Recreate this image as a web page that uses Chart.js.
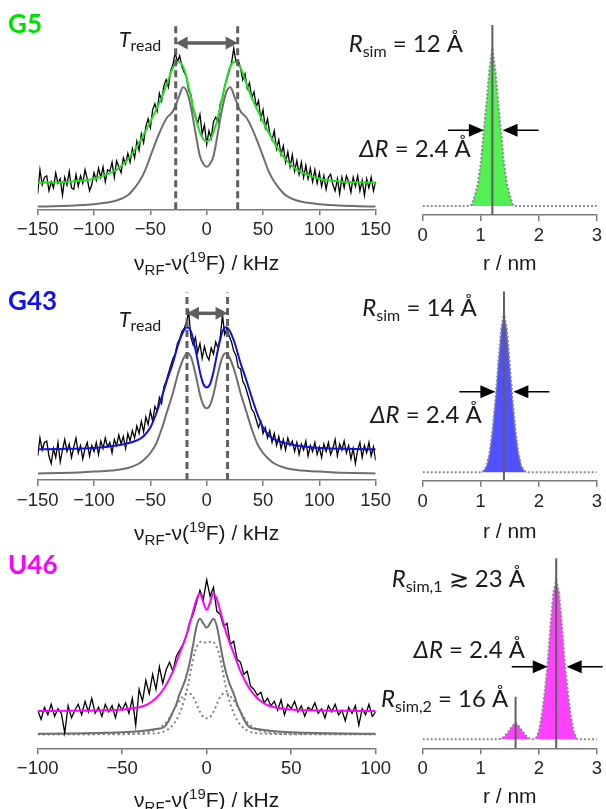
<!DOCTYPE html>
<html>
<head>
<meta charset="utf-8">
<script src="https://cdn.jsdelivr.net/npm/chart.js@4.4.1/dist/chart.umd.min.js"></script>
<style>
  body { margin: 0; background: #fff; width: 606px; height: 809px; overflow: hidden; position: relative; }
  canvas { position: absolute; }
</style>
</head>
<body>
<canvas id="g5Spec" width="400" height="290" style="left:0;top:0"></canvas>
<canvas id="g5Dist" width="276" height="290" style="left:330px;top:0"></canvas>
<canvas id="g43Spec" width="400" height="290" style="left:0;top:270px"></canvas>
<canvas id="g43Dist" width="276" height="290" style="left:330px;top:270px"></canvas>
<canvas id="u46Spec" width="400" height="290" style="left:0;top:540px"></canvas>
<canvas id="u46Dist" width="276" height="290" style="left:330px;top:540px"></canvas>
<script>
// ---------- spectra: frequency grids (kHz) ----------
const wideFreq = [
  -150,-148,-146,-144,-142,-140,-138,-136,-134,-132,-130,-128,-126,-124,-122,-120,-118,-116,-114,-112,-110,-108,-106,-104,-102,-100,
  -98,-96,-94,-92,-90,-88,-86,-84,-82,-80,-78,-76,-74,-72,-70,-68,-66,-64,-62,-60,
  -58,-56,-54,-52,-50,-48,-46,-44,-42,-40,-38,-36,-34,-32,-30,
  -28,-26,-24,-22,-20,-18,-16,-14,-12,-10,
  -8,-6,-4,-2,0,2,4,6,8,
  10,12,14,16,18,20,22,24,26,28,
  30,32,34,36,38,40,42,44,46,48,50,52,54,56,58,
  60,62,64,66,68,70,72,74,76,78,80,82,84,86,88,90,92,94,96,98,
  100,102,104,106,108,110,112,114,116,118,120,122,124,126,128,130,132,134,136,138,140,142,144,146,148,150
];
const narrowFreq = [
  -100,-98,-96,-94,-92,-90,-88,-86,-84,-82,-80,-78,-76,-74,-72,-70,-68,-66,-64,-62,
  -60,-58,-56,-54,-52,-50,-48,-46,-44,-42,
  -40,-38,-36,-34,-32,-30,-28,-26,-24,-22,
  -20,-18,-16,-14,-12,-10,-8,-6,-4,-2,
  0,2,4,6,8,10,12,14,16,18,
  20,22,24,26,28,30,32,34,36,38,
  40,42,44,46,48,50,52,54,56,58,60,62,64,66,68,70,72,74,76,78,80,82,84,86,88,90,92,94,96,98,100
];

// ---------- G5 ----------
const g5Noisy = [
  0.09,0.25,0.15,0.2,0.21,0.11,0.17,0.13,0.23,0.16,0.19,0.08,0.2,0.15,0.24,0.13,0.12,0.22,0.14,0.21,0.16,0.25,0.19,0.11,0.15,0.23,
  0.18,0.26,0.2,0.27,0.17,0.25,0.24,0.3,0.2,0.31,0.27,0.23,0.33,0.29,0.36,0.3,0.39,0.33,0.44,0.38,
  0.49,0.43,0.54,0.59,0.53,0.65,0.69,0.64,0.76,0.71,0.81,0.85,0.8,0.91,0.95,
  1.03,0.97,1.01,0.94,0.9,0.87,0.78,0.75,0.65,0.61,
  0.56,0.62,0.49,0.55,0.42,0.51,0.46,0.57,0.6,
  0.57,0.69,0.73,0.81,0.86,0.91,0.96,1.06,0.97,0.98,
  0.93,0.85,0.89,0.79,0.83,0.73,0.77,0.67,0.71,0.59,0.65,0.53,0.59,0.49,0.45,
  0.51,0.39,0.45,0.35,0.41,0.3,0.37,0.27,0.35,0.24,0.31,0.22,0.3,0.2,0.28,0.19,0.26,0.17,0.25,0.16,
  0.23,0.14,0.21,0.12,0.2,0.22,0.15,0.11,0.19,0.09,0.2,0.13,0.21,0.17,0.1,0.2,0.14,0.21,0.11,0.18,0.08,0.19,0.13,0.2,0.11,0.17
];
const g5FitFreq = [-150,-130,-110,-100,-90,-80,-70,-60,-50,-45,-40,-35,-30,-25,-20,-15,-10,-5,0,5,10,15,20,25,30,35,40,45,50,60,70,80,90,100,110,130,150];
const g5Fit = [0.164,0.167,0.178,0.19,0.215,0.25,0.32,0.43,0.57,0.65,0.73,0.83,0.93,0.97,0.92,0.77,0.6,0.48,0.44,0.48,0.6,0.77,0.92,0.97,0.93,0.83,0.73,0.65,0.57,0.43,0.32,0.25,0.215,0.19,0.178,0.167,0.164];
const g5SimFreq = [-150,-130,-110,-100,-90,-80,-70,-65,-60,-55,-50,-45,-40,-35,-30,-25,-21,-17,-13,-10,-6,-3,0,3,6,10,13,17,21,25,30,35,40,45,50,55,60,65,70,80,90,100,110,130,150];
const g5Sim = [0.005,0.008,0.015,0.02,0.03,0.045,0.08,0.12,0.17,0.24,0.34,0.44,0.53,0.6,0.64,0.73,0.8,0.76,0.63,0.5,0.34,0.29,0.27,0.29,0.34,0.5,0.63,0.76,0.8,0.73,0.64,0.6,0.53,0.44,0.34,0.24,0.17,0.12,0.08,0.045,0.03,0.02,0.015,0.008,0.005];
const g5Tread = [-27.5, 27.5];

// ---------- G43 ----------
const g43Noisy = [
  0.12,0.24,0.16,0.21,0.22,0.12,0.07,0.17,0.11,0.21,0.08,0.16,0.23,0.15,0.2,0.11,0.18,0.24,0.14,0.19,0.1,0.17,0.21,0.12,0.19,0.15,
  0.21,0.13,0.22,0.17,0.24,0.18,0.21,0.14,0.23,0.19,0.26,0.2,0.25,0.17,0.27,0.22,0.29,0.24,0.32,0.27,
  0.35,0.28,0.38,0.33,0.42,0.35,0.45,0.42,0.51,0.47,0.58,0.62,0.67,0.72,0.77,
  0.8,0.87,0.9,0.95,0.97,1.01,1.08,0.91,0.86,0.91,
  0.81,0.87,0.77,0.85,0.79,0.76,0.84,0.8,0.88,
  0.84,0.91,1.06,0.93,0.97,0.92,0.88,0.82,0.79,0.71,
  0.7,0.62,0.59,0.54,0.49,0.43,0.41,0.36,0.31,0.35,0.27,0.31,0.24,0.29,0.21,
  0.27,0.19,0.25,0.17,0.23,0.16,0.24,0.19,0.22,0.15,0.21,0.13,0.2,0.16,0.22,0.12,0.19,0.15,0.21,0.13,
  0.18,0.11,0.2,0.15,0.21,0.13,0.17,0.23,0.12,0.2,0.16,0.22,0.14,0.19,0.1,0.17,0.07,0.16,0.21,0.11,0.19,0.14,0.21,0.12,0.18,0.09
];
const g43CurveFreq = [-150,-130,-110,-100,-90,-80,-70,-60,-55,-50,-45,-40,-35,-30,-25,-20,-17,-14,-10,-6,-3,0,3,6,10,14,17,20,25,30,35,40,45,50,55,60,70,80,90,100,110,130,150];
const g43Fit = [0.165,0.167,0.17,0.174,0.18,0.19,0.205,0.23,0.26,0.31,0.4,0.51,0.63,0.74,0.87,0.96,0.978,0.95,0.83,0.68,0.6,0.578,0.6,0.68,0.83,0.95,0.978,0.96,0.87,0.74,0.63,0.51,0.4,0.31,0.26,0.23,0.205,0.19,0.18,0.174,0.17,0.167,0.165];
const g43Sim = [0.004,0.007,0.012,0.016,0.02,0.026,0.04,0.07,0.1,0.14,0.2,0.3,0.42,0.54,0.68,0.78,0.805,0.78,0.67,0.53,0.46,0.438,0.46,0.53,0.67,0.78,0.805,0.78,0.68,0.54,0.42,0.3,0.2,0.14,0.1,0.07,0.04,0.026,0.02,0.016,0.012,0.007,0.004];
const g43Tread = [-17.5, 18.5];

// ---------- U46 ----------
const u46Noisy = [
  0.16,0.1,0.18,0.13,0.2,0.12,0.17,0.14,0.01,0.19,0.11,0.16,0.2,0.13,0.22,0.15,0.24,0.14,0.18,0.12,
  0.2,0.15,0.19,0.11,0.2,0.16,0.21,0.14,0.24,0.06,
  0.3,0.22,0.36,0.27,0.4,0.3,0.45,0.34,0.43,0.48,
  0.42,0.52,0.56,0.6,0.66,0.75,0.8,0.88,0.96,0.9,
  1.03,0.92,0.98,0.82,0.8,0.72,0.74,0.6,0.62,0.5,
  0.48,0.4,0.42,0.32,0.3,0.26,0.28,0.21,0.24,0.19,
  0.22,0.16,0.23,0.13,0.2,0.17,0.22,0.15,0.19,0.12,0.18,0.16,0.21,0.14,0.17,0.11,0.19,0.15,0.2,0.13,0.16,0.09,0.18,0.14,0.19,0.06,0.17,0.13,0.2,0.12,0.15
];
const u46FitFreq = [-100,-80,-60,-50,-40,-35,-30,-25,-20,-16,-12,-9,-6,-4,-2,0,2,4,6,9,12,16,20,25,30,35,40,50,60,80,100];
const u46Fit = [0.155,0.157,0.16,0.165,0.18,0.2,0.24,0.31,0.42,0.54,0.66,0.78,0.9,0.94,0.88,0.83,0.88,0.94,0.9,0.78,0.66,0.54,0.42,0.31,0.24,0.2,0.18,0.165,0.16,0.157,0.155];
const u46SimFreq = [-100,-80,-60,-50,-40,-30,-25,-22,-20,-18,-16,-14.5,-12.5,-10,-8,-6,-4,-2,0,2,4,6,8,10,12.5,14.5,16,18,20,22,25,30,40,50,60,80,100];
const u46Sim = [0.003,0.005,0.01,0.013,0.02,0.035,0.05,0.1,0.15,0.2,0.27,0.31,0.37,0.48,0.6,0.72,0.77,0.74,0.71,0.74,0.77,0.72,0.6,0.48,0.37,0.31,0.27,0.2,0.15,0.1,0.05,0.035,0.02,0.013,0.01,0.005,0.003];
const u46CoreFreq = [-100,-50,-35,-28,-24,-21,-18,-15,-13,-11,-9,-7,-5,-3,0,3,5,7,9,11,13,15,18,21,24,28,35,50,100];
const u46Core = [0,0.001,0.004,0.01,0.025,0.05,0.095,0.17,0.24,0.33,0.45,0.55,0.6,0.62,0.61,0.62,0.6,0.55,0.45,0.33,0.24,0.17,0.095,0.05,0.025,0.01,0.004,0.001,0];
const u46SideFreq = [-100,-50,-40,-35,-30,-27,-24,-21,-18,-15,-12,-10,-8,-6,-4,-2,0,2,4,6,8,10,12,15,18,21,24,27,30,35,40,50,100];
const u46Side = [0,0.003,0.008,0.015,0.03,0.05,0.08,0.13,0.19,0.24,0.27,0.27,0.25,0.2,0.15,0.115,0.107,0.115,0.15,0.2,0.25,0.27,0.27,0.24,0.19,0.13,0.08,0.05,0.03,0.015,0.008,0.003,0];

// ---------- distance distributions (r in nm) ----------
const g5Grid = [0,0.5,0.8,0.85,0.9,0.95,1.0,1.05,1.1,1.15,1.2,1.25,1.3,1.35,1.4,1.45,1.5,1.55,1.6,2.0,2.5,3.0];
const g5Dist = [0,0,0,0.01,0.07,0.14,0.27,0.47,0.66,0.87,1.0,0.87,0.66,0.47,0.27,0.14,0.07,0.01,0,0,0,0];
const g5Rsim = [1.2];
const g5Width = [1.054, 1.376];

const g43Grid = [0,0.5,1.0,1.05,1.1,1.15,1.2,1.25,1.3,1.35,1.4,1.45,1.5,1.55,1.6,1.65,1.7,1.75,1.8,2.0,2.5,3.0];
const g43Dist = [0,0,0,0.01,0.04,0.12,0.26,0.45,0.68,0.9,1.0,0.9,0.68,0.45,0.26,0.12,0.04,0.01,0,0,0,0];
const g43Rsim = [1.4];
const g43Width = [1.252, 1.562];

const u46Grid = [0,0.5,1.0,1.3,1.35,1.4,1.45,1.5,1.55,1.6,1.65,1.7,1.75,1.8,1.85,1.9,1.95,2.0,2.05,2.1,2.15,2.2,2.25,2.3,2.35,2.4,2.45,2.5,2.55,2.6,2.65,2.7,3.0];
const u46Dist = [0,0,0,0,0.005,0.015,0.035,0.06,0.085,0.104,0.085,0.06,0.035,0.015,0.003,0,0.005,0.05,0.15,0.29,0.47,0.71,0.92,1,0.92,0.71,0.47,0.29,0.15,0.05,0.005,0,0];
const u46Rsim = [2.3, 1.6];
const u46Width = [2.154, 2.48];

// ---------- styles ----------
const axisGray = '#7a7a7a';
const simGray = '#6e6e6e';
const textCol = '#1a1a1a';
const annFam = 'Lato, "Open Sans", sans-serif';
const axFam = '"Liberation Sans", Arial, sans-serif';

const pts = (xs, ys) => xs.map((x, i) => ({ x, y: ys[i] }));
const vline = (x, y0, y1) => [{ x, y: y0 }, { x, y: y1 }];

function drawRich(ctx, parts, x, y, align) {
  let w = 0;
  parts.forEach(p => { ctx.font = p.font; w += ctx.measureText(p.text).width; });
  let cx = align === 'right' ? x - w : align === 'center' ? x - w / 2 : x;
  ctx.textBaseline = 'alphabetic';
  ctx.textAlign = 'left';
  parts.forEach(p => {
    ctx.font = p.font;
    ctx.fillStyle = p.color || textCol;
    ctx.fillText(p.text, cx, y + (p.dy || 0));
    cx += ctx.measureText(p.text).width;
  });
}

function head(ctx, tx, ty, dir, len, half) {
  ctx.beginPath();
  ctx.moveTo(tx, ty);
  ctx.lineTo(tx - dir * len, ty - half);
  ctx.lineTo(tx - dir * len, ty + half);
  ctx.closePath();
  ctx.fill();
}

function overlay(cfg) {
  return {
    id: 'overlay',
    afterDraw(chart) {
      const ctx = chart.ctx, sx = chart.scales.x, sy = chart.scales.y, area = chart.chartArea;
      ctx.save();
      (cfg.arrows || []).forEach(a => {
        const y = sy.getPixelForValue(a.level);
        ctx.strokeStyle = a.color; ctx.fillStyle = a.color; ctx.lineWidth = a.width;
        if (a.kind === 'double') {
          const x1 = sx.getPixelForValue(a.from), x2 = sx.getPixelForValue(a.to);
          ctx.beginPath(); ctx.moveTo(x1 + a.len - 2, y); ctx.lineTo(x2 - a.len + 2, y); ctx.stroke();
          head(ctx, x1, y, -1, a.len, a.half);
          head(ctx, x2, y, 1, a.len, a.half);
        } else {
          const x1 = sx.getPixelForValue(a.tips[0]), x2 = sx.getPixelForValue(a.tips[1]);
          ctx.beginPath();
          ctx.moveTo(x1 - a.tail, y); ctx.lineTo(x1 - a.len + 1, y);
          ctx.moveTo(x2 + a.tail, y); ctx.lineTo(x2 + a.len - 1, y);
          ctx.stroke();
          head(ctx, x1, y, 1, a.len, a.half);
          head(ctx, x2, y, -1, a.len, a.half);
        }
      });
      (cfg.labels || []).forEach(l => drawRich(ctx, l.parts, l.x, l.y, l.align));
      drawRich(ctx, cfg.title, (area.left + area.right) / 2, cfg.axis + cfg.titleGap, 'center');
      ctx.restore();
    }
  };
}

function panel(id, cfg) {
  const canvas = document.getElementById(id);
  const H = canvas.height;
  return new Chart(canvas, {
    type: 'line',
    data: { datasets: cfg.datasets },
    options: {
      responsive: false,
      animation: false,
      devicePixelRatio: 1,
      layout: { padding: { left: cfg.left, right: cfg.right, top: cfg.top, bottom: 0 } },
      plugins: { legend: { display: false }, tooltip: { enabled: false } },
      elements: { point: { radius: 0 } },
      scales: {
        x: {
          type: 'linear', min: cfg.xMin, max: cfg.xMax,
          afterFit: s => { s.height = H - cfg.axis; },
          border: { display: true, color: axisGray, width: 1.5 },
          grid: { display: true, drawOnChartArea: false, drawTicks: true, tickLength: 6, color: axisGray, lineWidth: 1.5 },
          ticks: {
            stepSize: cfg.step, autoSkip: false, maxRotation: 0, padding: 4, color: '#262626',
            font: { family: axFam, size: 18.5 },
            callback: v => v < 0 ? '\u2212' + Math.abs(v) : String(v)
          }
        },
        y: { display: false, min: cfg.yMin, max: cfg.yMax }
      }
    },
    plugins: [overlay(cfg)]
  });
}

const lineDs = (data, color, width, extra) => Object.assign({
  data, borderColor: color, borderWidth: width, pointRadius: 0, fill: false, tension: 0
}, extra || {});
const smooth = { cubicInterpolationMode: 'monotone' };
const dashed = { borderDash: [7, 4] };

const kHzTitle = [
  { text: '\u03bd', font: `21px ${axFam}` },
  { text: 'RF', font: `15px ${axFam}`, dy: 5 },
  { text: '-\u03bd(', font: `21px ${axFam}` },
  { text: '19', font: `15px ${axFam}`, dy: -8 },
  { text: 'F) / kHz', font: `21px ${axFam}` }
];
const nmTitle = [{ text: 'r / nm', font: `21px ${axFam}` }];

const big = `24px ${annFam}`, bigIt = `italic 24px ${annFam}`, sub = `16px ${annFam}`;
const tread = (x, y) => ({ x, y, parts: [{ text: 'T', font: `italic 21px ${annFam}` }, { text: 'read', font: sub, dy: 4 }] });
const tag = (text, color, y) => ({ x: 8, y, parts: [{ text, font: `bold 26px ${annFam}`, color }] });
const dRlabel = (x, y) => ({ x, y, align: 'right', parts: [{ text: '\u0394R', font: bigIt }, { text: ' = 2.4 \u00c5', font: big }] });
const rsim = (x, y, subText, rest) => ({ x, y, align: 'right', parts: [{ text: 'R', font: bigIt }, { text: subText, font: sub, dy: 5 }, { text: rest, font: big }] });

// ---------- left: spectra ----------
panel('g5Spec', {
  left: 37.7, right: 24.3, top: 9.3, axis: 209.3, xMin: -150, xMax: 150, step: 50,
  yMin: -0.0133, yMax: 1.32, title: kHzTitle, titleGap: 61,
  datasets: [
    lineDs(vline(g5Tread[0], -0.0133, 1.209), '#5f5f5f', 3, dashed),
    lineDs(vline(g5Tread[1], -0.0133, 1.209), '#5f5f5f', 3, dashed),
    lineDs(pts(g5FitFreq, g5Fit), '#1ee01e', 2, smooth),
    lineDs(pts(wideFreq, g5Noisy), '#000', 1.3),
    lineDs(pts(g5SimFreq, g5Sim), simGray, 2, smooth)
  ],
  arrows: [{ kind: 'double', from: g5Tread[0], to: g5Tread[1], level: 1.095, color: '#5f5f5f', width: 3.5, len: 12, half: 6.5 }],
  labels: [tag('G5', '#00e000', 33), tread(119, 46.7)]
});

panel('g43Spec', {
  left: 37.7, right: 24.3, top: 10, axis: 210, xMin: -150, xMax: 150, step: 50,
  yMin: -0.04, yMax: 1.293, title: kHzTitle, titleGap: 60,
  datasets: [
    lineDs(vline(g43Tread[0], -0.04, 1.209), '#5f5f5f', 3, dashed),
    lineDs(vline(g43Tread[1], -0.04, 1.209), '#5f5f5f', 3, dashed),
    lineDs(pts(g43CurveFreq, g43Fit), '#1010e6', 2, smooth),
    lineDs(pts(wideFreq, g43Noisy), '#000', 1.3),
    lineDs(pts(g43CurveFreq, g43Sim), simGray, 2, smooth)
  ],
  arrows: [{ kind: 'double', from: g43Tread[0], to: g43Tread[1], level: 1.071, color: '#5f5f5f', width: 3.5, len: 12, half: 6.5 }],
  labels: [tag('G43', '#1010f0', 40), tread(119, 56.7)]
});

panel('u46Spec', {
  left: 37.7, right: 24.3, top: 8.3, axis: 208.3, xMin: -100, xMax: 100, step: 50,
  yMin: -0.0933, yMax: 1.24, title: kHzTitle, titleGap: 59,
  datasets: [
    lineDs(pts(u46FitFreq, u46Fit), '#ff00ff', 2, smooth),
    lineDs(pts(narrowFreq, u46Noisy), '#000', 1.3),
    lineDs(pts(u46SimFreq, u46Sim), simGray, 2, smooth),
    lineDs(pts(u46CoreFreq, u46Core), '#808080', 2, Object.assign({ borderDash: [2, 3] }, smooth)),
    lineDs(pts(u46SideFreq, u46Side), '#808080', 2, Object.assign({ borderDash: [2, 3] }, smooth))
  ],
  labels: [tag('U46', '#ff00ff', 34)]
});

// ---------- right: distance distributions ----------
const distDs = (grid, vals, fillCol) => lineDs(pts(grid, vals), '#8a8a8a', 2, {
  borderDash: [2, 2], fill: 'origin', backgroundColor: fillCol
});
const inward = (tips, level) => ({ kind: 'inward', tips, level, color: '#000', width: 1.5, len: 15, half: 6.5, tail: 36 });

panel('g5Dist', {
  left: 92.7, right: 6, top: 10, axis: 215, xMin: 0, xMax: 3, step: 1,
  yMin: -0.057, yMax: 1.243, title: nmTitle, titleGap: 55,
  datasets: [
    lineDs(vline(g5Rsim[0], -0.057, 1.148), '#5f5f5f', 2),
    distDs(g5Grid, g5Dist, '#52f052')
  ],
  arrows: [inward(g5Width, 0.48)],
  labels: [rsim(133, 51.7, 'sim', ' = 12 \u00c5'), dRlabel(140.7, 157.3)]
});

panel('g43Dist', {
  left: 92.7, right: 6, top: 10, axis: 210.7, xMin: 0, xMax: 3, step: 1,
  yMin: -0.053, yMax: 1.209, title: nmTitle, titleGap: 57,
  datasets: [
    lineDs(vline(g43Rsim[0], -0.053, 1.136), '#5f5f5f', 2),
    distDs(g43Grid, g43Dist, '#5050ff')
  ],
  arrows: [inward(g43Width, 0.507)],
  labels: [rsim(146.7, 46, 'sim', ' = 14 \u00c5'), dRlabel(151.7, 153.3)]
});

panel('u46Dist', {
  left: 92.7, right: 6, top: 8.3, axis: 208.3, xMin: 0, xMax: 3, step: 1,
  yMin: -0.0565, yMax: 1.199, title: nmTitle, titleGap: 55,
  datasets: [
    lineDs(vline(u46Rsim[0], -0.0565, 1.136), '#5f5f5f', 2),
    lineDs(vline(u46Rsim[1], -0.0565, 0.267), '#5f5f5f', 2),
    distDs(u46Grid, u46Dist, '#ff40ff')
  ],
  arrows: [inward(u46Width, 0.456)],
  labels: [
    rsim(195, 46.7, 'sim,1', ' \u2273 23 \u00c5'),
    dRlabel(195, 118.3),
    rsim(178.3, 166.7, 'sim,2', ' = 16 \u00c5')
  ]
});
</script>
</body>
</html>
